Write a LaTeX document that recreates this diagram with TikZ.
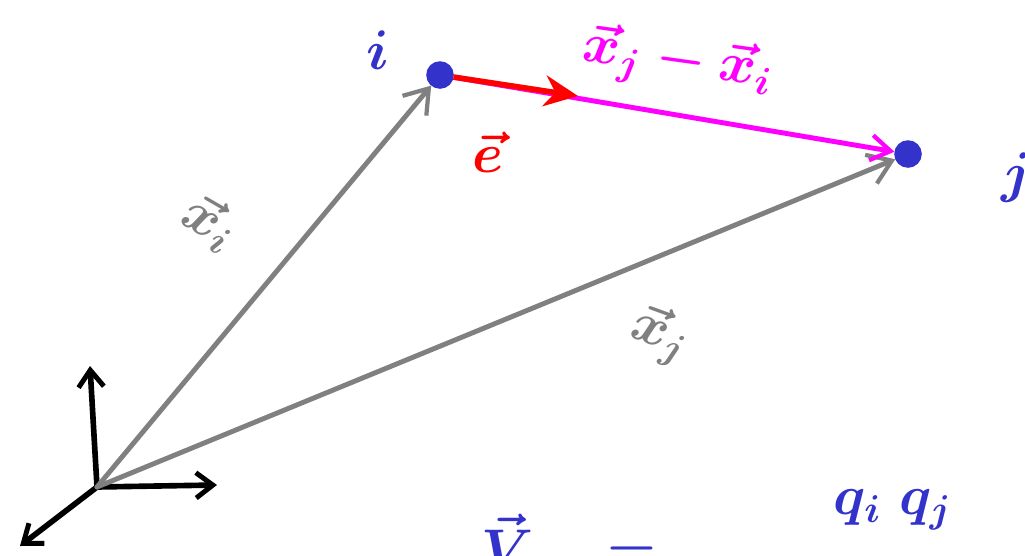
\documentclass[tikz,border=0pt]{standalone}
\usepackage{amsmath,amssymb}
\usepackage{xcolor}
\usepackage{tikz}
\usetikzlibrary{arrows.meta}
\definecolor{inkblue}{HTML}{3333CC}
\definecolor{inkgray}{HTML}{808080}
\definecolor{inkmag}{HTML}{FF00FF}
\definecolor{inkred}{HTML}{FF0000}
\begin{document}
\begin{tikzpicture}[x=0.025cm,y=-0.025cm,
    particle/.style={fill=inkblue,draw=inkblue,circle,line width=2.5pt,inner sep=0pt,minimum size=0.6cm},
    big/.style={font=\LARGE\boldmath,scale=2.3},
    posvec/.style={inkgray,line width=3.5pt,line cap=round,-{Straight Barb[length=16pt,width=22pt,line width=3pt]}},
    axis/.style={black,line width=4pt,line cap=round,-{Straight Barb[length=12pt,width=18pt,line width=3.5pt]}}]
        \useasboundingbox (0,0) rectangle (1025,555);
        \clip (0,0) rectangle (1025,555);

        %frame
        \coordinate (o) at (97,487);
        \coordinate (zt) at (90,366);
        \coordinate (xt) at (217,485);
        \coordinate (yt) at (20,546);
        \draw[axis] (o)--(zt);
        \draw[axis] (o)--(xt);
        \draw[axis] (o)--(yt);

        %particles
        \node[particle] (i) at (440,75){};
        \node[particle] (j) at (908,154){};
        \node[big,text=inkblue] (ilab) at (378,50){$i$};
        \node[big,text=inkblue] (jlab) at (1016,178){$j$};

        %position vectors
        \draw[posvec] (o)--(i);
        \draw[posvec] (o)--(j);
        \node[big,text=inkgray,rotate=-30] (xilab) at (210,222){$\vec{x}_i$};
        \node[big,text=inkgray,rotate=-20] (xjlab) at (660,335){$\vec{x}_j$};

        %separation
        \draw[inkmag,line width=3.5pt,-{Straight Barb[length=14pt,width=18pt,line width=3pt]}] (i)--(j);
        \node[big,text=inkmag,rotate=-8] (xjxi) at (678,62){$\vec{x}_j-\vec{x}_i$};

        %unit vector
        \coordinate (etip) at (578,96);
        \draw[inkred,line width=4pt,-{Stealth[length=24pt,width=22pt]}] (i)--(etip);
        \node[big,text=inkred] (elab) at (488,152){$\vec{e}$};

        %charges
        \node[big,text=inkblue] (qq) at (893,510){$q_i\;q_j$};
        \node[big,text=inkblue,anchor=north west] (vlab) at (470,503){$\vec{V}\quad=$};
\end{tikzpicture}
\end{document}
